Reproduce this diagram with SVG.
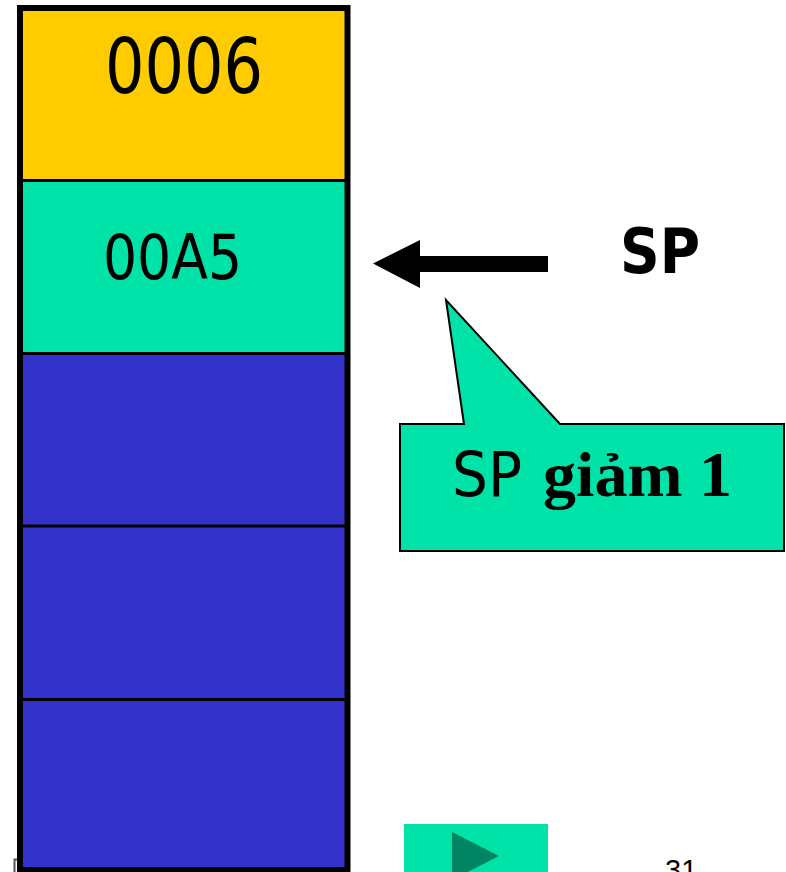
<svg xmlns="http://www.w3.org/2000/svg" width="786" height="872" viewBox="0 0 786 872">
  <style>
    .cellText { font-family: "DejaVu Sans Condensed", "DejaVu Sans", sans-serif; fill: #000; }
    .divider { stroke: #000; stroke-width: 3; }
    .green { fill: #00E3A8; }
  </style>
  <rect width="786" height="872" fill="#fff"/>

  <!-- stack cells -->
  <g id="cell-0006">
    <rect x="20" y="8" width="327" height="172" fill="#FFCC00"/>
    <text class="cellText" x="105" y="93" font-size="76" textLength="158" lengthAdjust="spacingAndGlyphs">0006</text>
  </g>
  <g id="cell-00A5">
    <rect x="20" y="181" width="327" height="172" class="green"/>
    <text class="cellText" x="103" y="279" font-size="63" textLength="139" lengthAdjust="spacingAndGlyphs">00A5</text>
  </g>
  <g id="cell-3">
    <rect x="20" y="354" width="327" height="172" fill="#3333CC"/>
  </g>
  <g id="cell-4">
    <rect x="20" y="526" width="327" height="173" fill="#3333CC"/>
  </g>
  <g id="cell-5">
    <rect x="20" y="699" width="327" height="172" fill="#3333CC"/>
  </g>
  <line class="divider" x1="20" y1="180.5" x2="347" y2="180.5"/>
  <line class="divider" x1="20" y1="353.5" x2="347" y2="353.5"/>
  <line class="divider" x1="20" y1="526" x2="347" y2="526"/>
  <line class="divider" x1="20" y1="699.5" x2="347" y2="699.5"/>
  <rect x="20" y="8" width="327.5" height="862" fill="none" stroke="#000" stroke-width="6"/>

  <!-- SP label -->
  <g id="sp-label">
    <text x="620" y="273" font-family="DejaVu Sans, sans-serif" font-weight="bold" font-size="62" textLength="80" lengthAdjust="spacingAndGlyphs">SP</text>
  </g>

  <!-- pointer arrow -->
  <g id="connectors">
    <polygon points="373,263.5 420,240 420,256 548,256 548,272 420,272 420,288" fill="#000"/>
  </g>

  <!-- callout -->
  <g id="callout">
    <path d="M400,424 H464 L446,300 L560,424 H784 V551 H400 Z" class="green" stroke="#000" stroke-width="2"/>
    <text y="496" font-size="63"><tspan x="452" font-family="DejaVu Sans Condensed, DejaVu Sans, sans-serif" textLength="70" lengthAdjust="spacingAndGlyphs">SP</tspan><tspan x="543" font-family="Liberation Serif, serif" font-weight="bold" font-size="64" textLength="189" lengthAdjust="spacingAndGlyphs">giảm 1</tspan></text>
  </g>

  <!-- navigation button -->
  <g id="next-button">
    <rect x="404" y="824" width="144" height="48" class="green"/>
    <polygon points="452,832 499,856 452,880" fill="#008461"/>
  </g>

  <!-- page number -->
  <g id="page-number">
    <text x="665" y="880" font-family="Liberation Sans, sans-serif" font-size="29">31</text>
  </g>

  <path d="M14.5,872 V859.5 H17" fill="none" stroke="#555" stroke-width="2"/>
</svg>
